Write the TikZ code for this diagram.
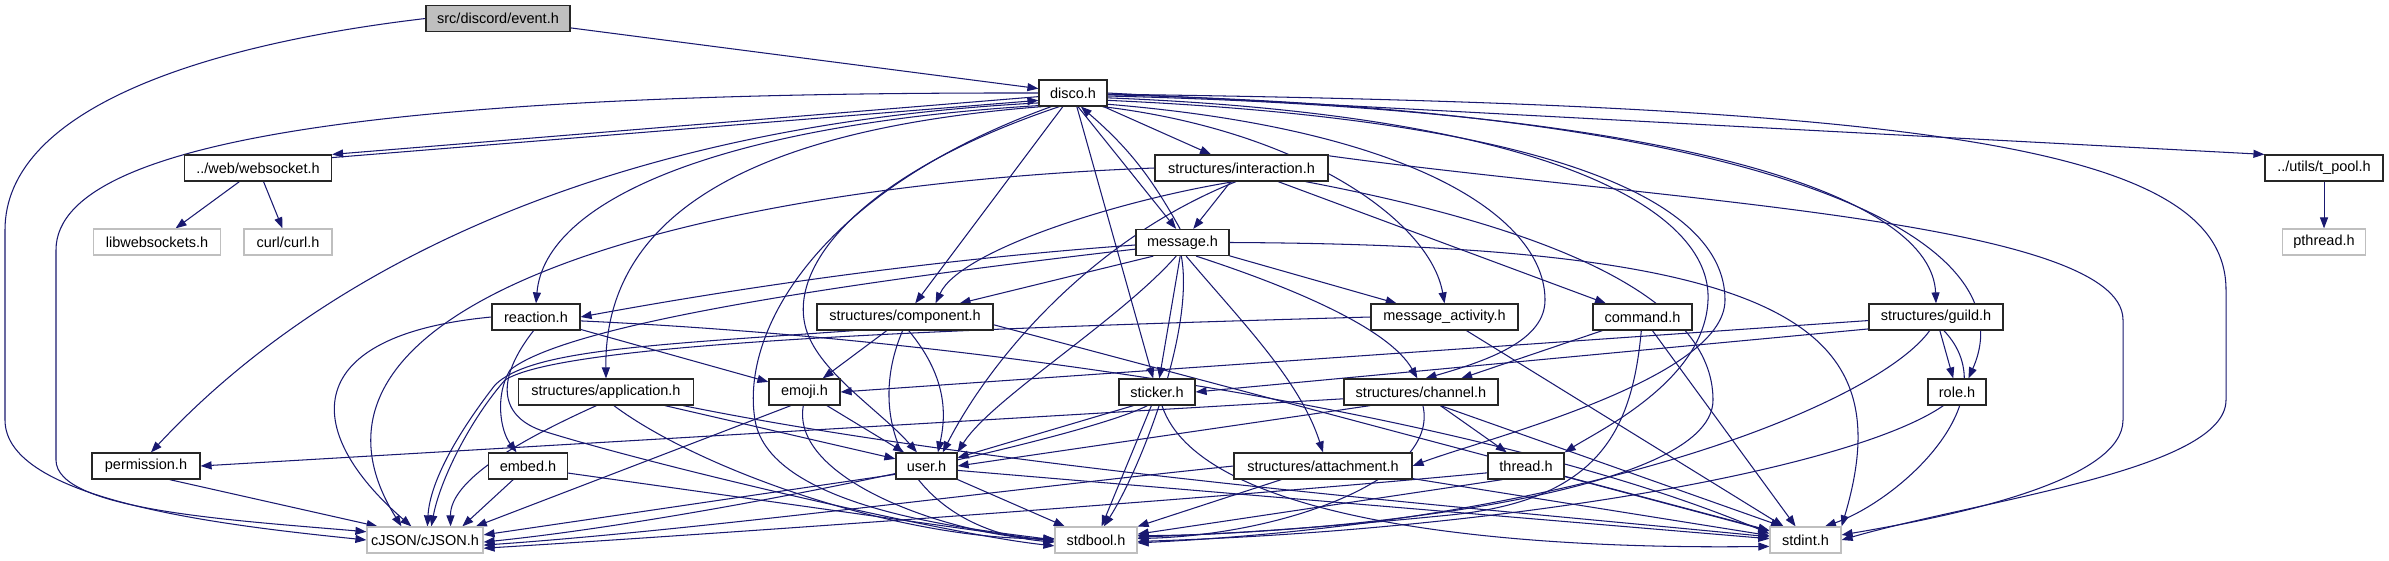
\documentclass[tikz,border=0pt]{standalone}
\usepackage{fontspec}
\setmainfont{Liberation Sans}
\usepackage{tikz}
\usetikzlibrary{arrows.meta}

\definecolor{edgeblue}{HTML}{191970}
\definecolor{sysgray}{HTML}{BFBFBF}

\pgfdeclarelayer{edges}
\pgfsetlayers{edges,main}

\begin{document}
\begin{tikzpicture}[
  x=1pt, y=-1pt,
  hdr/.style={
    rectangle,
    draw=black!85,
    fill=white,
    line width=1.2pt,
    minimum height=26pt,
    inner xsep=3pt,
    inner ysep=0pt,
    font=\fontsize{14.5}{16}\selectfont
  },
  sys/.style={hdr, draw=sysgray},
  root/.style={hdr, fill=sysgray},
  inc/.style={draw=edgeblue, line width=1.05pt, -{Triangle[length=11pt, width=8pt]}}
]

\useasboundingbox (0,0) rectangle (2389,560);

% Headers, row by row
\node[root, minimum width=144] (event) at (498,18.5) {src/discord/event.h};

\node[hdr, minimum width=68] (disco) at (1073,93) {disco.h};

\node[hdr, minimum width=147] (websocket) at (258,168) {../web/websocket.h};
\node[hdr, minimum width=173] (interaction) at (1241.5,168) {structures/interaction.h};
\node[hdr, minimum width=118] (tpool) at (2324,168) {../utils/t\_pool.h};

\node[sys, minimum width=127] (libws) at (157,242) {libwebsockets.h};
\node[sys, minimum width=88] (curl) at (288,242) {curl/curl.h};
\node[hdr, minimum width=93] (message) at (1182.5,242.5) {message.h};
\node[sys, minimum width=83] (pthread) at (2324,242) {pthread.h};

\node[hdr, minimum width=88] (reaction) at (536,317) {reaction.h};
\node[hdr, minimum width=176] (component) at (905,317) {structures/component.h};
\node[hdr, minimum width=147] (msgact) at (1444.5,317) {message\_activity.h};
\node[hdr, minimum width=99] (command) at (1642.5,317) {command.h};
\node[hdr, minimum width=134] (guild) at (1936,317) {structures/guild.h};

\node[hdr, minimum width=175] (application) at (606,392) {structures/application.h};
\node[hdr, minimum width=71] (emoji) at (804.5,392) {emoji.h};
\node[hdr, minimum width=76] (sticker) at (1157,392) {sticker.h};
\node[hdr, minimum width=154] (channel) at (1421,392) {structures/channel.h};
\node[hdr, minimum width=58] (role) at (1957,392) {role.h};

\node[hdr, minimum width=108] (permission) at (146,466) {permission.h};
\node[hdr, minimum width=79] (embed) at (528,466) {embed.h};
\node[hdr, minimum width=61] (user) at (926.5,466) {user.h};
\node[hdr, minimum width=178] (attachment) at (1323,466) {structures/attachment.h};
\node[hdr, minimum width=76] (thread) at (1526,466) {thread.h};

\node[sys, minimum width=116] (cjson) at (425,540) {cJSON/cJSON.h};
\node[sys, minimum width=82] (stdbool) at (1096,540) {stdbool.h};
\node[sys, minimum width=71] (stdint) at (1805.5,540) {stdint.h};

\begin{pgfonlayer}{edges}
\fill[white] (0,0) rectangle (2389,560);

% event.h
\draw[inc] (event) -- (disco);
\draw[inc] (event.west) .. controls (200,45) and (5,110) .. (5,230) -- (5,420) .. controls (5,500) and (220,525) .. (cjson.west);

% disco.h
\draw[inc] (disco.west) .. controls (450,92) and (56,130) .. (56,250) -- (56,460) .. controls (56,510) and (230,520) .. (cjson.172);
\draw[inc] (disco.186) -- (websocket.north east);
\draw[inc] (websocket.8) -- (disco.192);
\draw[inc] (disco.196) .. controls (620,125) and (330,260) .. (permission.70);
\draw[inc] (disco.200) .. controls (720,125) and (545,200) .. (reaction.north);
\draw[inc] (disco.204) .. controls (740,130) and (604,220) .. (application.north);
\draw[inc] (disco.212) .. controls (820,190) and (740,330) .. (755,420) .. controls (770,510) and (980,530) .. (stdbool.west);
\draw[inc] (disco.225) .. controls (870,170) and (790,260) .. (805,325) .. controls (815,370) and (880,410) .. (user.125);
\draw[inc] (disco) -- (component);
\draw[inc] (disco) -- (sticker);
\draw[inc] (disco.290) -- (message.115);
\draw[inc] (message.100) to[bend right=10] (disco.300);
\draw[inc] (disco) -- (interaction);
\draw[inc] (disco.-25) .. controls (1300,130) and (1430,220) .. (msgact.north);
\draw[inc] (disco.-18) .. controls (1420,130) and (1545,220) .. (1545,300) .. controls (1545,340) and (1490,360) .. (channel.72);
\draw[inc] (disco.-12) .. controls (1550,120) and (1725,200) .. (1725,300) .. controls (1725,380) and (1480,440) .. (attachment.east);
\draw[inc] (disco.-8) .. controls (1550,115) and (1712,210) .. (1708,300) .. controls (1705,380) and (1600,430) .. (thread.north east);
\draw[inc] (disco.-5) .. controls (1700,110) and (1932,200) .. (guild.north);
\draw[inc] (disco.-3) .. controls (1780,110) and (2030,240) .. (role.50);
\draw[inc] (disco.-2) .. controls (1950,105) and (2226,150) .. (2226,290) -- (2226,400) .. controls (2226,470) and (1980,500) .. (stdint.east);
\draw[inc] (disco.east) -- (tpool.north west);

% websocket.h, t_pool.h
\draw[inc] (websocket) -- (libws);
\draw[inc] (websocket) -- (curl);
\draw[inc] (tpool) -- (pthread);

% structures/interaction.h
\draw[inc] (interaction) -- (message);
\draw[inc] (interaction.-118) .. controls (1120,200) and (960,250) .. (component.24);
\draw[inc] (interaction.-112) .. controls (1090,240) and (990,360) .. (user.40);
\draw[inc] (interaction.west) .. controls (700,185) and (260,300) .. (cjson.150);
\draw[inc] (interaction) -- (command);
\draw[inc] (interaction.8) .. controls (1650,200) and (2123,220) .. (2123,320) -- (2123,420) .. controls (2123,480) and (1960,515) .. (stdint.8);
\draw[inc] (interaction.-12) .. controls (1560,230) and (1713,300) .. (1713,400) .. controls (1713,500) and (1300,535) .. (stdbool.6);

% message.h
\draw[inc] (message.183) .. controls (900,262) and (700,295) .. (reaction.east);
\draw[inc] (message.188) .. controls (780,290) and (560,330) .. (510,370) .. controls (495,395) and (500,430) .. (embed.130);
\draw[inc] (message.205) -- (component.14);
\draw[inc] (message) -- (msgact);
\draw[inc] (message) -- (sticker);
\draw[inc] (message.-115) .. controls (1120,320) and (990,400) .. (user.north east);
\draw[inc] (message.-95) .. controls (1195,330) and (1140,470) .. (stdbool.60);
\draw[inc] (message.-45) .. controls (1300,290) and (1390,330) .. (channel.105);
\draw[inc] (message.-75) .. controls (1240,320) and (1300,380) .. (attachment.north);
\draw[inc] (message.east) .. controls (1800,245) and (1900,330) .. (stdint.north east);

% reaction.h
\draw[inc] (reaction.west) .. controls (300,335) and (300,430) .. (cjson.135);
\draw[inc] (reaction) -- (emoji);
\draw[inc] (reaction.-100) .. controls (495,380) and (500,415) .. (540,430) .. controls (650,465) and (950,535) .. (stdbool.188);
\draw[inc] (reaction.-5) .. controls (1000,340) and (1500,420) .. (stdint.170);

% structures/component.h
\draw[inc] (component) -- (emoji);
\draw[inc] (component.-75) .. controls (950,380) and (945,420) .. (user.50);
\draw[inc] (component.195) .. controls (650,345) and (530,350) .. (495,385) .. controls (460,430) and (430,480) .. (cjson.80);
\draw[inc] (component.-100) .. controls (860,430) and (920,530) .. (stdbool.183);
\draw[inc] (component.-5) -- (stdint.166);

% message_activity.h, command.h
\draw[inc] (msgact.west) .. controls (900,330) and (560,345) .. (505,380) .. controls (470,420) and (440,480) .. (cjson.65);
\draw[inc] (msgact) -- (stdint);
\draw[inc] (command) -- (channel);
\draw[inc] (command.-95) .. controls (1632,430) and (1600,500) .. (1450,515) .. controls (1300,530) and (1200,535) .. (stdbool.4);
\draw[inc] (command) -- (stdint);

% structures/guild.h
\draw[inc] (guild.183) -- (emoji.east);
\draw[inc] (guild.190) -- (sticker.east);
\draw[inc] (guild) -- (role);
\draw[inc] (guild.-115) .. controls (1880,400) and (1600,520) .. (stdbool.-4);
\draw[inc] (guild.-60) .. controls (2010,400) and (1900,500) .. (stdint.35);

% structures/application.h
\draw[inc] (application.-125) .. controls (520,440) and (450,480) .. (cjson.28);
\draw[inc] (application) -- (user);
\draw[inc] (application.-60) .. controls (700,470) and (900,540) .. (stdbool.178);
\draw[inc] (application.-10) .. controls (1000,470) and (1500,510) .. (stdint.175);

% emoji.h, sticker.h
\draw[inc] (emoji) -- (user);
\draw[inc] (emoji.-135) -- (cjson.15);
\draw[inc] (emoji.-95) .. controls (790,480) and (950,535) .. (stdbool.180);
\draw[inc] (sticker.-150) -- (user.15);
\draw[inc] (sticker.-125) .. controls (1080,440) and (700,520) .. (cjson.-2);
\draw[inc] (sticker) -- (stdbool);
\draw[inc] (sticker.-70) .. controls (1200,520) and (1500,550) .. (stdint.-170);

% structures/channel.h, role.h
\draw[inc] (channel.185) -- (permission.east);
\draw[inc] (channel.-165) -- (user.east);
\draw[inc] (channel) -- (thread);
\draw[inc] (channel.-82) .. controls (1440,480) and (1280,535) .. (stdbool.2);
\draw[inc] (channel.-35) -- (stdint.150);
\draw[inc] (role.-135) .. controls (1850,470) and (1500,530) .. (stdbool.-2);

% bottom row of includers
\draw[inc] (permission.-30) -- (cjson.164);
\draw[inc] (embed) -- (cjson.20);
\draw[inc] (embed.-10) -- (stdbool.182);
\draw[inc] (user.-165) -- (cjson.5);
\draw[inc] (user) -- (stdbool);
\draw[inc] (user.-8) -- (stdint.178);
\draw[inc] (attachment) -- (stdbool);
\draw[inc] (attachment.-8) -- (stdint.173);
\draw[inc] (attachment.west) .. controls (1000,490) and (700,530) .. (cjson.-5);
\draw[inc] (thread.-170) .. controls (1200,500) and (700,535) .. (cjson.-8);
\draw[inc] (thread.-150) -- (stdbool.8);
\draw[inc] (thread) -- (stdint);
\end{pgfonlayer}

\end{tikzpicture}
\end{document}
